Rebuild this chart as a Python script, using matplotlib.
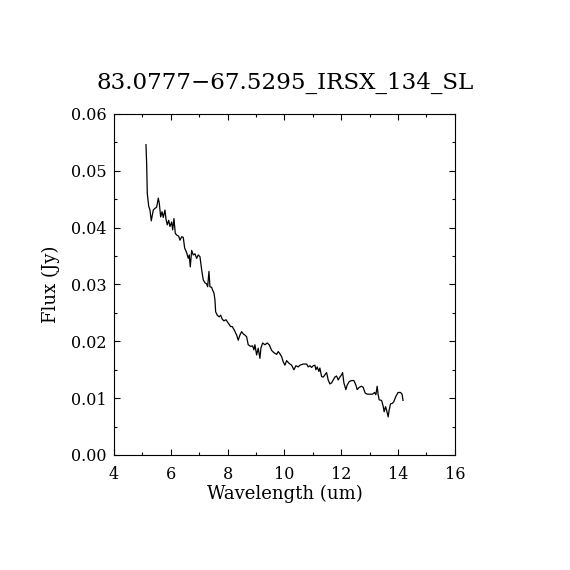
import matplotlib
matplotlib.use('Agg')
import matplotlib.pyplot as plt
from matplotlib.ticker import MultipleLocator

plt.rcParams['font.family'] = ['DejaVu Serif']

title = '83.0777\u221267.5295_IRSX_134_SL'

wavelength = [
    5.126, 5.151, 5.172, 5.221, 5.267, 5.312, 5.383, 5.443, 5.502, 5.559,
    5.594, 5.643, 5.689, 5.735, 5.794, 5.830, 5.875, 5.925, 5.970, 6.030,
    6.065, 6.111, 6.157, 6.206, 6.277, 6.322, 6.382, 6.438, 6.488, 6.558,
    6.614, 6.649, 6.685, 6.734, 6.790, 6.850, 6.910, 6.966, 7.026, 7.086,
    7.142, 7.202, 7.262, 7.297, 7.343, 7.378, 7.438, 7.473, 7.519, 7.554,
    7.578, 7.635, 7.705, 7.754, 7.811, 7.870, 7.941, 8.022, 8.106, 8.162,
    8.233, 8.317, 8.373, 8.433, 8.493, 8.550, 8.609, 8.669, 8.725, 8.810,
    8.880, 8.926, 8.961, 9.021, 9.077, 9.137, 9.172, 9.232, 9.313, 9.394,
    9.464, 9.549, 9.630, 9.725, 9.781, 9.841, 9.901, 9.957, 10.017, 10.077,
    10.168, 10.253, 10.334, 10.404, 10.485, 10.545, 10.661, 10.781, 10.837, 10.897,
    10.957, 11.013, 11.073, 11.108, 11.154, 11.213, 11.248, 11.308, 11.365, 11.424,
    11.484, 11.540, 11.600, 11.660, 11.716, 11.776, 11.836, 11.892, 11.952, 12.012,
    12.047, 12.093, 12.163, 12.209, 12.279, 12.364, 12.445, 12.515, 12.561, 12.631,
    12.716, 12.772, 12.842, 12.913, 13.008, 13.103, 13.173, 13.219, 13.265, 13.300,
    13.335, 13.420, 13.476, 13.511, 13.560, 13.596, 13.652, 13.687, 13.736, 13.806,
    13.852, 13.922, 14.003, 14.088, 14.141, 14.176,
]

flux = [
    0.0546, 0.0510, 0.0460, 0.0438, 0.0431, 0.0412, 0.0431, 0.0434, 0.0436, 0.0452,
    0.0443, 0.0419, 0.0428, 0.0418, 0.0431, 0.0415, 0.0405, 0.0413, 0.0402, 0.0410,
    0.0396, 0.0416, 0.0390, 0.0387, 0.0385, 0.0378, 0.0384, 0.0383, 0.0364, 0.0356,
    0.0346, 0.0352, 0.0331, 0.0360, 0.0352, 0.0354, 0.0346, 0.0352, 0.0349, 0.0326,
    0.0308, 0.0303, 0.0301, 0.0296, 0.0323, 0.0296, 0.0295, 0.0290, 0.0285, 0.0273,
    0.0252, 0.0246, 0.0243, 0.0246, 0.0239, 0.0236, 0.0238, 0.0232, 0.0226, 0.0226,
    0.0220, 0.0211, 0.0202, 0.0211, 0.0217, 0.0213, 0.0211, 0.0208, 0.0194, 0.0191,
    0.0192, 0.0185, 0.0194, 0.0176, 0.0188, 0.0170, 0.0188, 0.0197, 0.0194, 0.0197,
    0.0194, 0.0184, 0.0180, 0.0177, 0.0182, 0.0178, 0.0173, 0.0164, 0.0158, 0.0166,
    0.0161, 0.0158, 0.0150, 0.0157, 0.0155, 0.0158, 0.0160, 0.0160, 0.0155, 0.0157,
    0.0154, 0.0157, 0.0158, 0.0150, 0.0155, 0.0147, 0.0153, 0.0138, 0.0137, 0.0141,
    0.0145, 0.0132, 0.0125, 0.0127, 0.0132, 0.0137, 0.0139, 0.0132, 0.0137, 0.0141,
    0.0145, 0.0127, 0.0115, 0.0123, 0.0129, 0.0131, 0.0131, 0.0123, 0.0115, 0.0119,
    0.0121, 0.0119, 0.0109, 0.0107, 0.0107, 0.0107, 0.0110, 0.0106, 0.0121, 0.0106,
    0.0097, 0.0096, 0.0086, 0.0076, 0.0085, 0.0079, 0.0067, 0.0079, 0.0090, 0.0091,
    0.0094, 0.0103, 0.0110, 0.0110, 0.0107, 0.0096,
]

fig = plt.figure(figsize=(5.7, 5.7), dpi=100)
ax = fig.add_axes([0.2, 0.2018, 0.598, 0.5982])

ax.plot(wavelength, flux, color='black', lw=0.9)

ax.set_xlim(4, 16)
ax.set_ylim(0, 0.06)
ax.xaxis.set_major_locator(MultipleLocator(2))
ax.xaxis.set_minor_locator(MultipleLocator(1))
ax.yaxis.set_major_locator(MultipleLocator(0.01))
ax.yaxis.set_minor_locator(MultipleLocator(0.005))
ax.yaxis.set_major_formatter(plt.FuncFormatter(lambda v, p: '%.2f' % v))
ax.tick_params(which='both', direction='in', top=True, right=True,
               labelsize=11.5, width=0.8)
ax.tick_params(which='major', length=4.5)
ax.tick_params(which='minor', length=2)
ax.tick_params(axis='x', which='major', pad=8)
ax.tick_params(axis='y', which='major', pad=5.5)
for s in ax.spines.values():
    s.set_linewidth(0.8)

ax.set_xlabel('Wavelength (um)', fontsize=13, labelpad=1)
ax.set_ylabel('Flux (Jy)', fontsize=13, labelpad=8)
fig.text(0.5, 1 - 83 / 570, title, ha='center', va='center', fontsize=16.6)

fig.savefig('out.png', dpi=100)
